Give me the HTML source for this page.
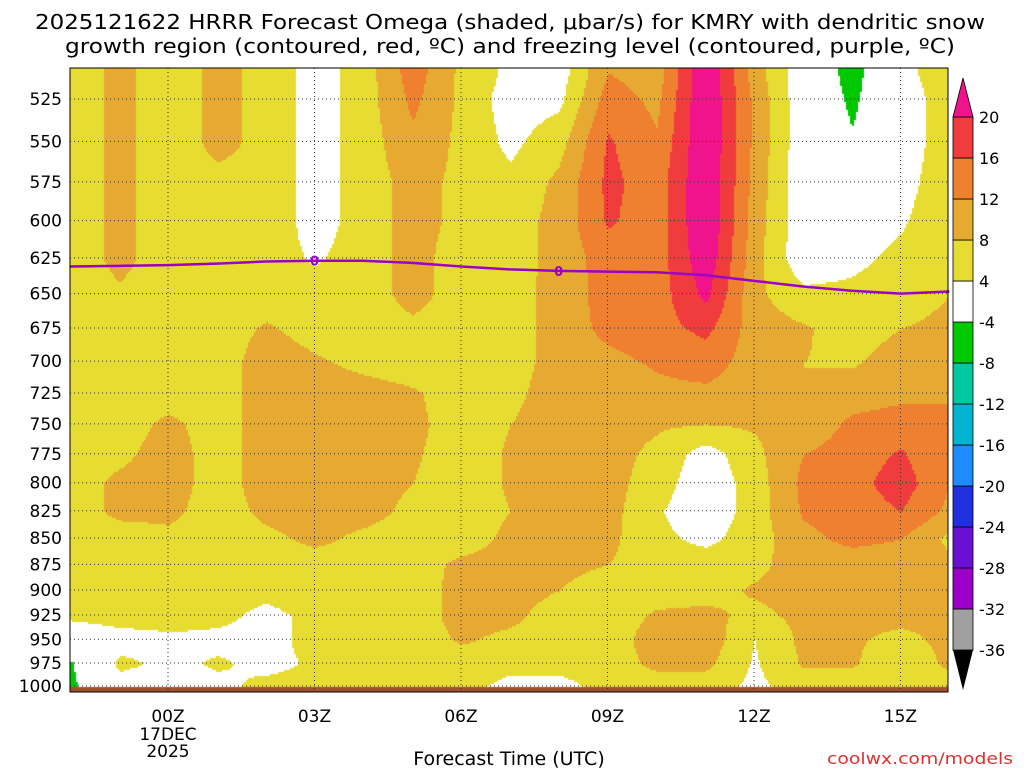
<!DOCTYPE html>
<html><head><meta charset="utf-8"><style>
html,body{margin:0;padding:0;background:#fff;width:1024px;height:768px;overflow:hidden}
#wrap{position:relative;width:1024px;height:768px}
canvas{position:absolute;left:0;top:0}
svg{position:absolute;left:0;top:0}
text{font-family:"DejaVu Sans","Liberation Sans",sans-serif;fill:#000}
</style></head><body>
<div id="wrap">
<canvas id="cv" width="1024" height="768"></canvas>
<svg id="sv" width="1024" height="768"></svg>
</div>
<script>
// ---- data ----
const hours = [-2,-1,0,1,2,3,4,5,6,7,8,9,10,11,12,13,14,15,16];
const levels = [510,525,550,575,600,625,650,675,700,725,750,775,800,825,850,875,900,925,950,975,1000];
const yTicks = [525,550,575,600,625,650,675,700,725,750,775,800,825,850,875,900,925,950,975,1000];
const xTickHours = [0,3,6,9,12,15];
const xTickLabels = ["00Z","03Z","06Z","09Z","12Z","15Z"];
const om_m2 = [6,6,6,6,6,6,6,6,6,6,6,6,6,6,6,6,6,5,0,-4.5,-5];
const om_m1 = [9,9,9,9,9,9,7.5,6,6,6,6,7,9,9,6,6,6,6,2,5,2];
const om_00 = [6,6,6,6,6,6,6,6,6,6,9,10,10,9,7,6,6,6,3,3,2];
const om_01 = [9,9,9,7,6,6,6,6,6,6,6,6,6,6,6,6,6,5,3,4.5,3];
const om_02 = [7,7,7,7,7,6,6,8.5,10,10,10,10,10,9,7,6,5,3,3,3,5];
const om_03 = [2,2,2,2,2,3.5,6,6.5,8.5,10,10,10,10,10,9,6,6,5,5,4.5,5];
const om_04 = [6,6,6,6,6,6,6,6,7,9.5,9.5,9.5,9.5,9.5,7,6,6,6,6,6,5];
const om_05 = [14,13,11,9.5,9.5,9.5,9.5,7,6,8.5,9,8.5,8,7,6,6,6,6,6,6,6];
const om_06 = [7,7,7,7,7,6,6,6,6,6,6,6,6,6,6,9,9.5,9.5,8.5,6,5];
const om_07 = [3,2,3,5,6,6,6,6,6,7,8,8.5,8.5,8,9,9.5,9.5,9,7,5,3];
const om_08 = [2,3,6.5,9,9.5,9.5,10,10,10,10,10,10,9.5,9.5,9.5,9,8,6,6,5,3];
const om_09 = [12,14,16.5,17,16.5,14,13.5,13,11,10,9.5,9.5,9.5,9.5,9,8,6,6,6,6,5];
const om_10 = [10,11,12.5,14,14,14,14,14.5,12.5,11,8.5,7,6,4.5,5,6,6.5,8.5,10,9,6];
const om_11 = [24,24,24,24,24,23,21,17,14,11,8,2,1,1,3,6,6.5,9,10.5,9,6];
const om_12 = [10,11,11,10.5,10,9.5,9,10,10,10,8.5,7,6,6,6,7,8.5,7,4,3.5,3];
const om_13 = [1,1,1,1,1,1,5,8.5,8,8,9,12,13,12.5,11,10,9.5,9,9,8.5,6];
const om_14 = [-6,-5,-3.5,1,2,3,5,6,7.5,10,13,14,14.5,14,13,10,9.5,9,8.5,8.5,5];
const om_15 = [3,2,2,2.5,3.5,5,6,8,10,11,14,16.5,18,16,12,10,9.5,9,7,5,4];
const om_16 = [6,6,6,6.5,7,7,8,9,11,12,12,12,12,11,7,9,9,9,9,9,6];
const omega = [om_m2,om_m1,om_00,om_01,om_02,om_03,om_04,om_05,om_06,om_07,om_08,om_09,om_10,om_11,om_12,om_13,om_14,om_15,om_16];
const freezeP = [631,630.5,630,629,627.5,627,627,628.5,631,633,634,634.5,635,637,641,645,648,650,648.5];
const cbLevels = [-36,-32,-28,-24,-20,-16,-12,-8,-4,4,8,12,16,20];
const cbColors = ["#a0a0a0","#9a00c8","#6a10d2","#2030e0","#1e8cff","#00b4d2","#00c8a0","#00c800","#ffffff","#e6dc32","#e6aa32","#ee8030","#f03c3c"];

const X0=70,X1=948,Y0=68,Y1=692;
function xs(h){return 168+(h)*48.83;}
function ys(p){return 99+911*Math.log(p/525);}
function colorFor(v){
  if(v>=20) return "#f0148c";
  if(v<-36) return "#000000";
  for(let i=0;i<cbLevels.length-1;i++){ if(v>=cbLevels[i]&&v<cbLevels[i+1]) return cbColors[i]; }
  return "#ffffff";
}
const cv=document.getElementById('cv'),ctx=cv.getContext('2d');
const colX=hours.map(xs), rowY=levels.map(ys);
for(let py=Y0;py<Y1;py+=2){
  let r=0; while(r<rowY.length-2 && py>rowY[r+1]) r++;
  let ty=(py-rowY[r])/(rowY[r+1]-rowY[r]); ty=Math.max(0,Math.min(1,ty));
  for(let px=X0;px<X1;px+=2){
    let c=0; while(c<colX.length-2 && px>colX[c+1]) c++;
    let tx=(px-colX[c])/(colX[c+1]-colX[c]); tx=Math.max(0,Math.min(1,tx));
    const v=(omega[c][r]*(1-tx)+omega[c+1][r]*tx)*(1-ty)+(omega[c][r+1]*(1-tx)+omega[c+1][r+1]*tx)*ty;
    ctx.fillStyle=colorFor(v); ctx.fillRect(px,py,2,2);
  }
}
ctx.fillStyle="#a0522d"; ctx.fillRect(X0,687,X1-X0,5);

const NS="http://www.w3.org/2000/svg", sv=document.getElementById('sv');
function mk(t,a,txt){const e=document.createElementNS(NS,t);for(const k in a)e.setAttribute(k,a[k]);if(txt!==undefined)e.textContent=txt;sv.appendChild(e);return e;}
yTicks.forEach(p=>{const l=mk('line',{x1:X0,x2:X1,y1:ys(p),y2:ys(p),stroke:"#333",'stroke-width':1,'stroke-dasharray':"1,3"});


const t=mk('text',{x:62,y:ys(p)+6,'font-size':17,'text-anchor':'end'},String(p));

});
xTickHours.forEach((h,i)=>{const l=mk('line',{x1:xs(h),x2:xs(h),y1:Y0,y2:Y1,stroke:"#333",'stroke-width':1,'stroke-dasharray':"1,3"});


const t=mk('text',{x:xs(h),y:722,'font-size':17,'text-anchor':'middle'},xTickLabels[i]);

});
let d=""; hours.forEach((h,i)=>{d+=(i?"L":"M")+xs(h)+","+ys(freezeP[i]);});
const fl=mk('path',{d:d,fill:'none',stroke:'#9a00c8','stroke-width':2.5});


[3,8].forEach(h=>{const i=hours.indexOf(h);
const t=mk('text',{x:xs(h),y:ys(freezeP[i])+5,'font-size':13,'font-weight':'bold','text-anchor':'middle',style:'fill:#9a00c8'},"0");

});
const fr=mk('rect',{x:X0,y:Y0,width:X1-X0,height:Y1-Y0,fill:'none',stroke:'#000','stroke-width':1});


const cbX=953,cbW=20,cbTop=117,cbStep=41;
for(let i=0;i<cbColors.length;i++){const y=cbTop+(cbLevels.length-2-i)*cbStep;
const r=mk('rect',{x:cbX,y:y,width:cbW,height:cbStep,fill:cbColors[i],stroke:'#000','stroke-width':0.8});

}
const up=mk('polygon',{points:`${cbX},${cbTop} ${cbX+cbW},${cbTop} ${cbX+cbW/2},78`,fill:'#f0148c',stroke:'#000','stroke-width':0.8});


const lowY=cbTop+(cbLevels.length-1)*cbStep;
const dn=mk('polygon',{points:`${cbX},${lowY} ${cbX+cbW},${lowY} ${cbX+cbW/2},690`,fill:'#000'});


cbLevels.forEach((v,i)=>{const y=cbTop+(cbLevels.length-1-i)*cbStep;
const t=mk('text',{x:979,y:y+6,'font-size':16},String(v));

});
function txt(name,x,y,s,a,str,extra){const t=mk('text',Object.assign({x:x,y:y,'font-size':s,'text-anchor':a},extra||{}),str);

return t;}
txt('title-line-1',510,29,20,'middle',"2025121622 HRRR Forecast Omega (shaded, \u03bcbar/s) for KMRY with dendritic snow",{textLength:950,lengthAdjust:'spacingAndGlyphs'});
txt('title-line-2',510,53,20,'middle',"growth region (contoured, red, \u00baC) and freezing level (contoured, purple, \u00baC)",{textLength:890,lengthAdjust:'spacingAndGlyphs'});
txt('x-date-label',168,740,17,'middle',"17DEC");
txt('x-year-label',168,757,17,'middle',"2025");
txt('x-axis-title',509,765,19,'middle',"Forecast Time (UTC)");
txt('credit-text',1013,764,16,'end',"coolwx.com/models",{style:'fill:#e03030',textLength:186,lengthAdjust:'spacingAndGlyphs'});
</script>
</body></html>
